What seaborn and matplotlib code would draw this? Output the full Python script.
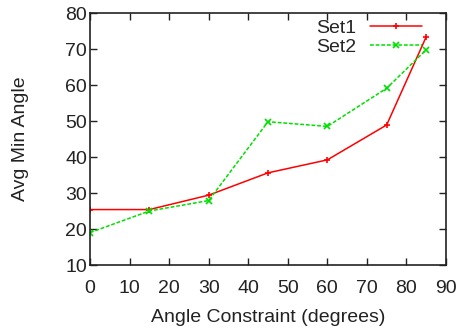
import matplotlib
matplotlib.use("Agg")
import matplotlib.pyplot as plt
import seaborn as sns
import pandas as pd

x_vals = [0, 15, 30, 45, 60, 75, 85]
set1 = [25.4, 25.4, 29.4, 35.6, 39.2, 48.9, 73.4]
set2 = [19.0, 25.0, 27.9, 49.8, 48.5, 59.1, 69.8]
series_names = ["Set1", "Set2"]
x_ticks = [0, 10, 20, 30, 40, 50, 60, 70, 80, 90]
y_ticks = [10, 20, 30, 40, 50, 60, 70, 80]

df = pd.DataFrame({
    "x": x_vals * 2,
    "y": set1 + set2,
    "series": [series_names[0]] * len(x_vals) + [series_names[1]] * len(x_vals),
})

sns.set_style("ticks")
plt.rcParams["font.family"] = ["Liberation Sans", "DejaVu Sans"]

FS = 14
fig = plt.figure(figsize=(4.61, 3.32), dpi=100)
ax = fig.add_axes([90 / 461, 67 / 332, 356 / 461, 252 / 332])

sns.lineplot(
    data=df, x="x", y="y", hue="series", style="series",
    palette={"Set1": "#ff0000", "Set2": "#00e000"},
    dashes={"Set1": "", "Set2": (2.5, 1.2)},
    markers={"Set1": "+", "Set2": "x"},
    markersize=5, linewidth=1.1,
    ax=ax, legend=True,
)
for ln in ax.get_lines():
    ln.set_markeredgecolor(ln.get_color())
    ln.set_markeredgewidth(1.2)

ax.set_xlim(0, 90)
ax.set_ylim(10, 80)
ax.set_xticks(x_ticks)
ax.set_yticks(y_ticks)
ax.tick_params(direction="in", top=True, right=True, length=5, width=1,
               labelsize=FS, colors="#222222")
ax.tick_params(axis="y", pad=2)
ax.tick_params(axis="x", pad=10.5)
for sp in ax.spines.values():
    sp.set_linewidth(1.2)
    sp.set_color("#222222")
    sp.set_visible(True)
ax.set_xlabel("Angle Constraint (degrees)", fontsize=FS, color="#222222")
ax.set_ylabel("Avg Min Angle", fontsize=FS, color="#222222")
ax.xaxis.set_label_coords(0.5, -(309 - 265) / 252)
ax.xaxis.label.set_va("top")
ax.yaxis.set_label_coords(-(90 - 29) / 356, 0.5)

handles, labels = ax.get_legend_handles_labels()
leg = ax.legend(handles, labels, loc="upper right", bbox_to_anchor=(0.933, 0.974),
                frameon=False, markerfirst=False, fontsize=FS, handlelength=2.7,
                labelspacing=0.05, handletextpad=0.67, borderaxespad=0.0,
                borderpad=0.0)
for h in leg.legend_handles:
    h.set_markeredgecolor(h.get_color())
    h.set_markeredgewidth(1.2)

fig.savefig("out.png", dpi=100)
